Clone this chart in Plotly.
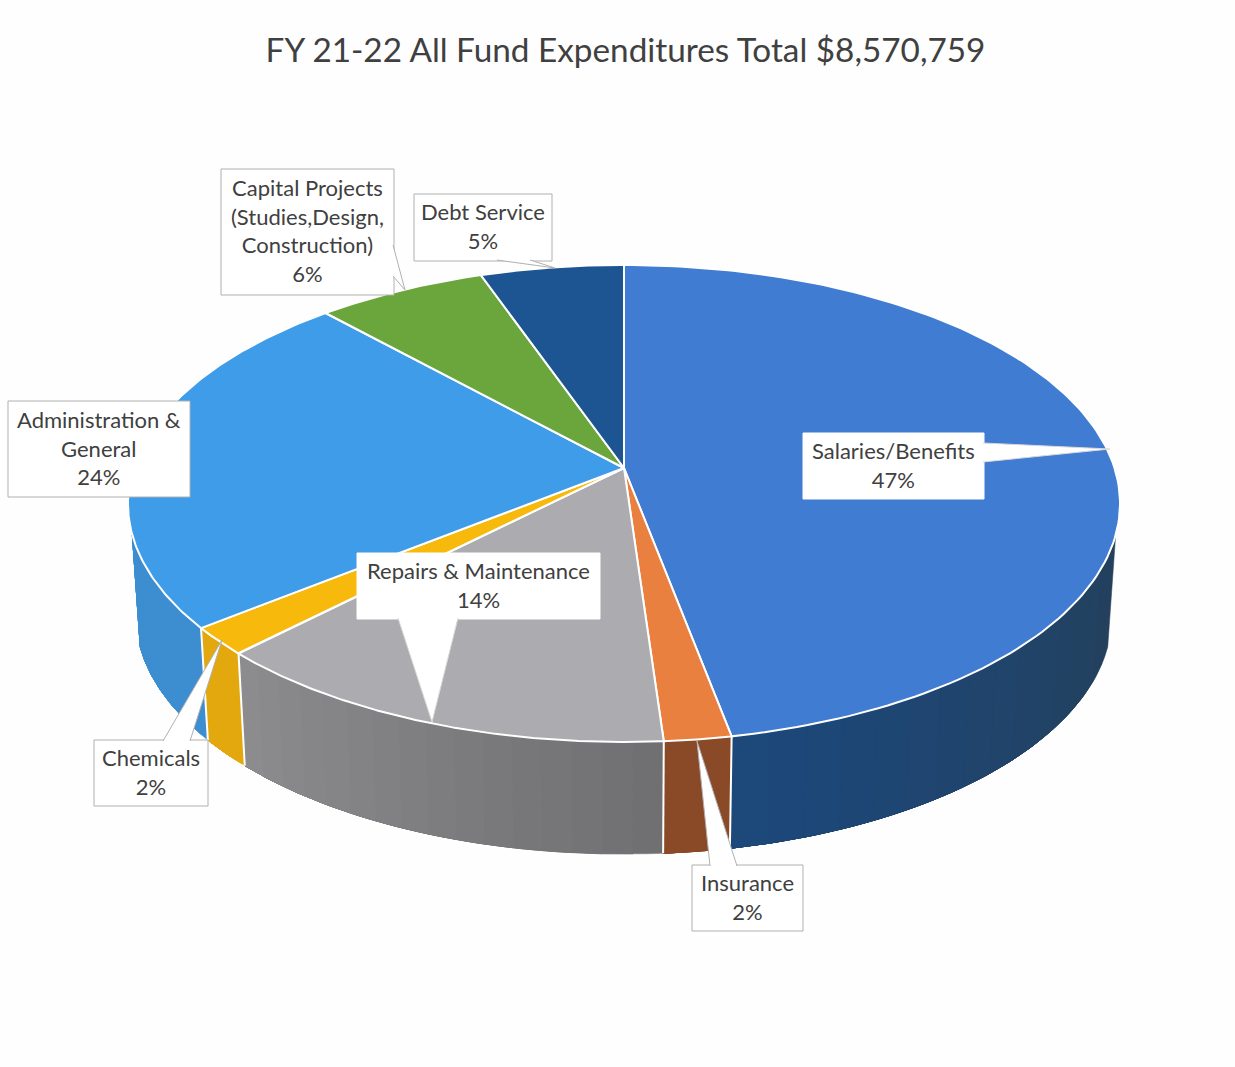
import numpy as np
import plotly.graph_objects as go

# ---- data ----
categories = ["Salaries/Benefits", "Insurance", "Repairs & Maintenance", "Chemicals",
              "Administration &<br>General", "Capital Projects<br>(Studies,Design,<br>Construction)",
              "Debt Service"]
shares = [47.0, 1.9, 13.5, 1.9, 23.9, 6.4, 5.4]
percent_labels = ["47%", "2%", "14%", "2%", "24%", "6%", "5%"]
title_text = "FY 21-22 All Fund Expenditures Total $8,570,759"

# ---- styling ----
top_colors = ["#3F7CD2", "#E9803F", "#ABABB0", "#F6B90C", "#3F9CE9", "#6BA63C", "#1C5592"]
# wall colour at the start and end of each slice's visible wall (clockwise)
wall_start = [(36, 64, 92), (138, 74, 40), (112, 112, 114), (226, 168, 14), (61, 142, 208), None, None]
wall_end = [(28, 72, 122), (138, 74, 40), (140, 140, 142), (226, 168, 14), (61, 142, 208), None, None]
FONT = "Lato"
TEXT = "#404040"
BORDER = "#b0b0b0"

# ---- perspective projection of the pie disc into page pixels ----
CX, APEX_Y, A, K, D = 624.0, 468.0, 490.5, 0.1488, -163.6
WALL_SCALE, WALL_DROP = 488 / 496, 112.0
WALL_FROM, WALL_TO = 106.0, 254.0
STRIPS = 16


def project(theta_deg):
    t = np.radians(theta_deg)
    u, v = np.sin(t), np.cos(t)
    w = 1 + K * v
    return CX + A * u / w, (APEX_Y + D * v) / w


def lower(theta_deg):
    x, y = project(theta_deg)
    return CX + (x - CX) * WALL_SCALE, y + WALL_DROP


edges = np.concatenate([[0], np.cumsum(shares)]) * 3.6 / sum(shares) * 100
fig = go.Figure()


def poly(xs, ys, fill, line="white", width=2):
    fig.add_trace(go.Scatter(x=xs, y=ys, mode="lines", fill="toself", fillcolor=fill,
                             line=dict(color=line, width=width), hoverinfo="skip", showlegend=False))


# walls, front part only: each strip runs to the end of the slice and is overpainted by the next,
# so the shading has no seams
for i, (c0, c1) in enumerate(zip(wall_start, wall_end)):
    if c0 is None:
        continue
    a0, a1 = max(edges[i], WALL_FROM), min(edges[i + 1], WALL_TO)
    cuts = np.linspace(a0, a1, STRIPS + 1)
    for s in range(STRIPS):
        f = s / (STRIPS - 1)
        col = "rgb(%d,%d,%d)" % tuple(round(p + (q - p) * f) for p, q in zip(c0, c1))
        th = np.linspace(cuts[s], a1, 60)
        xt, yt = project(th)
        xb, yb = lower(th[::-1])
        poly(np.r_[xt, xb, xt[0]], np.r_[yt, yb, yt[0]], col, line=col, width=0.5)
for e in edges[1:5]:
    x0, y0 = project(e)
    x1, y1 = lower(e)
    fig.add_trace(go.Scatter(x=[x0, x1], y=[y0, y1], mode="lines", line=dict(color="white", width=2),
                             hoverinfo="skip", showlegend=False))

# top face
for i, c in enumerate(top_colors):
    th = np.linspace(edges[i], edges[i + 1], 150)
    x, y = project(th)
    poly(np.r_[CX, x, CX], np.r_[APEX_Y, y, APEX_Y], c)

# ---- callout boxes (x0, y0, x1, y1), pointer polygons, border flag ----
boxes = [(803, 433, 984, 499), (692, 865, 803, 931), (357, 553, 600, 619), (94, 740, 208, 806),
         (8, 401, 190, 497), (221, 169, 394, 295), (414, 194, 552, 261)]
bordered = [False, True, False, True, True, True, True]
pointers = [[(983, 443), (1110, 449), (983, 462)],
            [(710, 866), (697, 741), (737, 866)],
            [(398, 618), (432, 722), (458, 618)],
            [(163, 741), (222, 640), (190, 741)],
            None,
            [(393, 245), (405, 290), (393, 276)],
            [(497, 260), (555, 268), (530, 260)]]

shapes = []
for b, brd, p in zip(boxes, bordered, pointers):
    shapes.append(dict(type="rect", xref="x", yref="y", x0=b[0], y0=b[1], x1=b[2], y1=b[3],
                       fillcolor="white", line=dict(color=BORDER if brd else "white", width=1)))
    if p:
        path = "M" + " L".join(f"{x},{y}" for x, y in p)
        shapes.append(dict(type="path", xref="x", yref="y", path=path + " Z", fillcolor="white",
                           line=dict(width=0)))
        shapes.append(dict(type="path", xref="x", yref="y", path=path,
                           line=dict(color=BORDER if brd else "#d8d8d8", width=1)))

annotations = []
for b, name, pct in zip(boxes, categories, percent_labels):
    annotations.append(dict(x=(b[0] + b[2]) / 2, y=(b[1] + b[3]) / 2 - 1.5, xref="x", yref="y", showarrow=False,
                            text=f"{name}<br>{pct}", align="center",
                            font=dict(family=FONT, size=22, color=TEXT)))

fig.update_layout(
    width=1235, height=1067, autosize=False,
    margin=dict(l=0, r=0, t=0, b=0),
    paper_bgcolor="#FEFEFE", plot_bgcolor="#FEFEFE",
    title=dict(text=title_text, x=625.5 / 1235, xanchor="center", y=1 - 50 / 1067, yanchor="middle",
               font=dict(family=FONT, size=33.3, color=TEXT)),
    xaxis=dict(range=[0, 1235], visible=False, fixedrange=True),
    yaxis=dict(range=[1067, 0], visible=False, fixedrange=True),
    shapes=shapes, annotations=annotations, showlegend=False,
)
fig.write_html("out.html", config=dict(displayModeBar=False),
               post_script="document.body.style.margin='0';document.documentElement.style.background='#FEFEFE';")
